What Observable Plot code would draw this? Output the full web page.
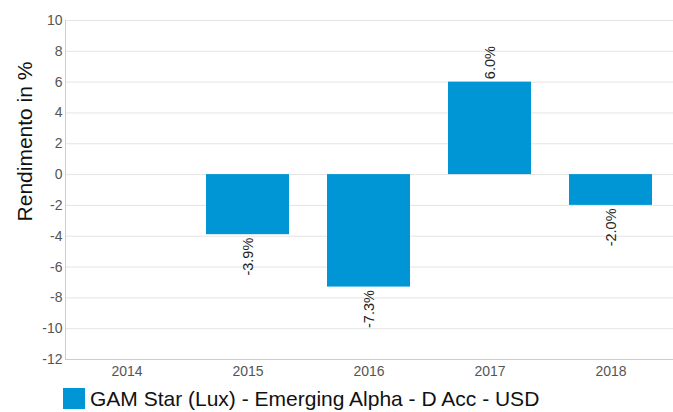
<!DOCTYPE html>
<html>
<head>
<meta charset="utf-8">
<script src="https://cdn.jsdelivr.net/npm/d3@7"></script>
<script src="https://cdn.jsdelivr.net/npm/@observablehq/plot@0.6"></script>
<style>
  body { margin: 0; background: #fff; font-family: Arial, "Liberation Sans", sans-serif; }
  #chart svg { display: block; }
  .legend { display: flex; align-items: center; height: 27px; padding-left: 63px; font-size: 21px; color: #111; }
  .legend .sw { width: 22px; height: 21px; background: #0096d6; margin-right: 5px; }
</style>
</head>
<body>
<div id="chart"></div>
<div class="legend"><span class="sw"></span><span>GAM Star (Lux) - Emerging Alpha - D Acc - USD</span></div>
<script>
const years = ["2014", "2015", "2016", "2017", "2018"];
const returns = [null, -3.9, -7.3, 6.0, -2.0];
const labels = ["", "-3.9%", "-7.3%", "6.0%", "-2.0%"];
const yTicks = [-12, -10, -8, -6, -4, -2, 0, 2, 4, 6, 8, 10];
const seriesName = "GAM Star (Lux) - Emerging Alpha - D Acc - USD";
const yLabel = "Rendimento in %";

const data = years.map((y, i) => ({year: y, value: returns[i], label: labels[i]})).filter(d => d.value != null);
const pos = data.filter(d => d.value >= 0);
const neg = data.filter(d => d.value < 0);

const chart = Plot.plot({
  width: 673,
  height: 385,
  marginLeft: 65,
  marginRight: 0,
  marginTop: 20,
  marginBottom: 26,
  style: {fontFamily: "Arial, 'Liberation Sans', sans-serif", fontSize: "14px", color: "#555"},
  x: {domain: years, paddingInner: 0.31, paddingOuter: 0.155, label: null},
  y: {domain: [-12, 10], label: null},
  marks: [
    Plot.gridY(yTicks, {stroke: "#e4e4e4", strokeOpacity: 1}),
    Plot.frame({anchor: "left", stroke: "#ccc"}),
    Plot.ruleY([-12], {stroke: "#ccc"}),
    Plot.barY(data, {x: "year", y: "value", fill: "#0096d6"}),
    Plot.text(pos, {x: "year", y: "value", text: "label", rotate: -90, textAnchor: "start", dy: -3, fill: "#222", fontSize: 14.5}),
    Plot.text(neg, {x: "year", y: "value", text: "label", rotate: -90, textAnchor: "end", dy: 3, fill: "#222", fontSize: 14.5}),
    Plot.axisX({tickSize: 0, tickPadding: 7, fill: "#555", fontSize: 14}),
    Plot.axisY(yTicks, {tickSize: 0, tickPadding: 3, fill: "#555", fontSize: 14, label: null, tickFormat: d => d}),
    Plot.text([yLabel], {frameAnchor: "top-left", dx: -48, dy: 121, rotate: -90, textAnchor: "middle", fontSize: 21, fill: "#111"})
  ]
});
document.getElementById("chart").appendChild(chart);
</script>
</body>
</html>
